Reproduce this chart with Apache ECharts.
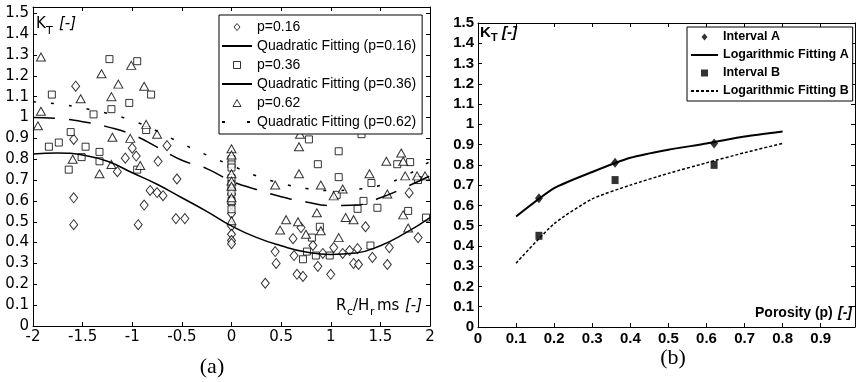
<!DOCTYPE html>
<html>
<head>
<meta charset="utf-8">
<script src="https://cdn.jsdelivr.net/npm/echarts@6/dist/echarts.min.js"></script>
<style>
  html, body { margin: 0; padding: 0; background: #fff; }
  #chart { width: 858px; height: 382px; }
</style>
</head>
<body>
<div id="chart"></div>
<script>
// ---- panel (a): K_T against Rc/Hrms ----
const p16Points = [
  [-1.57, 1.15], [-1.59, 0.895], [-1.0, 0.853], [-0.96, 0.815], [-1.07, 0.805], [-0.74, 0.79],
  [-0.65, 0.865], [-1.15, 0.74], [-0.55, 0.705], [-1.59, 0.615], [-1.59, 0.486], [-0.82, 0.65],
  [-0.75, 0.64], [-0.69, 0.625], [-0.88, 0.58], [-0.94, 0.486], [-0.56, 0.515], [-0.47, 0.515],
  [0, 0.633], [0, 0.66], [0, 0.585], [0, 0.54], [0, 0.48], [0, 0.44], [0, 0.41], [0, 0.395],
  [1.79, 0.638], [1.35, 0.476], [0.62, 0.419], [0.70, 0.472], [0.82, 0.386], [1.03, 0.376],
  [1.12, 0.348], [1.19, 0.362], [1.27, 0.371], [0.92, 0.348], [1.59, 0.376], [1.88, 0.424],
  [0.44, 0.357], [0.63, 0.338], [0.45, 0.30], [0.87, 0.286], [1.23, 0.30], [1.28, 0.295],
  [1.42, 0.329], [1.57, 0.295], [0.66, 0.248], [0.72, 0.238], [1.0, 0.248], [0.34, 0.205]
]
const p36Points = [
  [-1.23, 1.28], [-0.95, 1.27], [-1.81, 1.11], [-0.81, 1.11], [-1.03, 1.07], [-1.39, 1.015],
  [-1.21, 1.04], [-1.62, 0.93], [-1.74, 0.88], [-1.84, 0.86], [-1.47, 0.86], [-1.33, 0.835],
  [-1.33, 0.79], [-1.51, 0.81], [-1.64, 0.75], [-0.86, 0.94], [-0.95, 0.75],
  [0, 0.80], [0, 0.775], [0, 0.76], [0, 0.71], [0, 0.68], [0, 0.64], [0, 0.60], [0, 0.56],
  [0.78, 0.895], [1.08, 0.838], [0.87, 0.776], [1.08, 0.714], [1.41, 0.686], [1.67, 0.776],
  [1.80, 0.786], [1.88, 0.70], [1.06, 0.629], [1.33, 0.60], [1.27, 0.562], [1.47, 0.567],
  [1.78, 0.552], [1.96, 0.52], [0.89, 0.476], [0.81, 0.424], [1.40, 0.386], [0.76, 0.357],
  [0.72, 0.32], [0.85, 0.338], [0.99, 0.338], [1.31, 0.92]
]
const p62Points = [
  [-1.92, 1.29], [-1.92, 1.03], [-1.95, 0.96], [-1.31, 1.21], [-1.14, 1.16], [-1.52, 1.09],
  [-1.21, 1.10], [-1.01, 1.25], [-0.88, 1.15], [-1.20, 0.905], [-1.02, 0.90], [-0.86, 0.967],
  [-0.75, 0.92], [-1.60, 0.80], [-1.33, 0.73], [-1.21, 0.775], [-0.92, 0.77],
  [0, 0.85], [0, 0.82], [0, 0.73], [0, 0.695], [0, 0.67], [0, 0.615], [0, 0.505],
  [0.69, 0.92], [0.68, 0.86], [0.68, 0.73], [0.44, 0.676], [0.90, 0.676], [1.39, 0.73],
  [1.56, 0.79], [1.71, 0.83], [1.73, 0.79], [1.75, 0.72], [1.87, 0.72], [1.95, 0.72],
  [1.12, 0.657], [1.03, 0.624], [1.57, 0.633], [0.86, 0.543], [0.55, 0.51], [0.67, 0.50],
  [1.15, 0.52], [1.23, 0.51], [0.49, 0.46], [0.90, 0.457], [0.75, 0.44], [1.08, 0.424],
  [1.73, 0.533], [1.78, 0.47]
]
const fitX = [-2, -1.75, -1.5, -1.25, -1, -0.75, -0.5, -0.25, 0, 0.25, 0.5, 0.75, 1, 1.25, 1.5, 1.75, 2]
const fit16 = [0.825, 0.83, 0.82, 0.79, 0.735, 0.68, 0.615, 0.55, 0.48, 0.425, 0.385, 0.355, 0.343, 0.35, 0.385, 0.445, 0.52]
const fit36 = [1.0, 0.995, 0.98, 0.955, 0.918, 0.858, 0.795, 0.755, 0.695, 0.655, 0.62, 0.595, 0.578, 0.58, 0.615, 0.665, 0.72]
const fit62 = [1.075, 1.065, 1.045, 1.02, 0.985, 0.935, 0.875, 0.82, 0.77, 0.72, 0.685, 0.66, 0.65, 0.655, 0.675, 0.72, 0.79]

// ---- panel (b): K_T against porosity ----
const intervalA = [[0.16, 0.635], [0.36, 0.81], [0.62, 0.905]]
const intervalB = [[0.16, 0.45], [0.36, 0.725], [0.62, 0.80]]
const logX = [0.1, 0.2, 0.3, 0.4, 0.5, 0.6, 0.7, 0.8]
const logA = [0.545, 0.685, 0.765, 0.835, 0.875, 0.905, 0.94, 0.965]
const logB = [0.315, 0.51, 0.632, 0.7, 0.758, 0.81, 0.86, 0.906]

const zip = (xs, ys) => xs.map((x, i) => [x, ys[i]])
// only print labels that sit on a 0.1 step (hides the odd extent ticks)
const tenth = v => Math.abs(v * 10 - Math.round(v * 10)) < 1e-6 ? String(+v.toFixed(1)) : ''

const DIAMOND = 'path://M3,0L6,3.5L3,7L0,3.5Z'
const SQUARE = 'path://M0,0H6V6H0Z'
const TRIANGLE = 'path://M4,0L8,7L0,7Z'
const hollow = { color: '#fff', borderColor: '#000', borderWidth: 1 }
// line entries in the legend: no dot in the middle
const noDot = { color: 'rgba(0,0,0,0)', borderColor: 'rgba(0,0,0,0)', borderWidth: 0 }

const chart = echarts.init(document.getElementById('chart'))

function frameAxis(gridIndex, pos, min, max, interval, labels, font) {
  return {
    type: 'value', gridIndex, position: pos, min, max, interval,
    axisLine: { show: true, onZero: false, lineStyle: { color: '#000', width: 1 } },
    axisTick: { show: true, inside: true, length: 4, lineStyle: { color: '#000' } },
    splitLine: { show: false },
    axisLabel: labels ? Object.assign({ color: '#000', formatter: tenth }, font) : { show: false }
  }
}

const fontA = { fontFamily: 'DejaVu Sans', fontSize: 15, margin: 4 }
const fontB = { fontFamily: 'Liberation Sans', fontSize: 15, fontWeight: 'bold', margin: 4 }

function txt(text, x, y, font, align) {
  return { type: 'text', x, y, silent: true,
    style: { text, font, fill: '#000', align: align || 'left', verticalAlign: 'middle' } }
}

const option = {
  animation: false,
  textStyle: { fontFamily: 'Liberation Sans', color: '#000' },
  grid: [
    { left: 33, top: 7, width: 397, height: 319 },
    { left: 478, top: 23, width: 379, height: 304 }
  ],
  xAxis: [
    frameAxis(0, 'bottom', -2, 2, 0.5, true, fontA),
    frameAxis(0, 'top', -2, 2, 0.5, false),
    frameAxis(1, 'bottom', 0, 0.99, 0.1, true, fontB),
    frameAxis(1, 'top', 0, 0.99, 0.1, false)
  ],
  yAxis: [
    frameAxis(0, 'left', 0, 1.53, 0.1, true, fontA),
    frameAxis(0, 'right', 0, 1.53, 0.1, false),
    frameAxis(1, 'left', 0, 1.5, 0.1, true, fontB),
    frameAxis(1, 'right', 0, 1.5, 0.1, false)
  ],
  legend: [
    {
      orient: 'vertical', left: 219, top: 15,
      itemWidth: 30, itemHeight: 7, itemGap: 3,
      padding: [4, 6, 4, 2],
      borderColor: '#000', borderWidth: 1, borderRadius: 0, backgroundColor: '#fff',
      textStyle: { fontFamily: 'Liberation Sans', fontSize: 14, color: '#000', lineHeight: 16 },
      selectedMode: false,
      data: [
        { name: 'p=0.16', icon: DIAMOND, itemStyle: hollow },
        { name: 'Quadratic Fitting (p=0.16)', itemStyle: noDot },
        { name: 'p=0.36', icon: SQUARE, itemStyle: hollow },
        { name: 'Quadratic Fitting (p=0.36)', itemStyle: noDot, lineStyle: { type: 'solid' } },
        { name: 'p=0.62', icon: TRIANGLE, itemStyle: hollow },
        { name: 'Quadratic Fitting (p=0.62)', itemStyle: noDot, lineStyle: { type: [3, 22] } }
      ]
    },
    {
      orient: 'vertical', left: 687, top: 27,
      itemWidth: 27, itemHeight: 7, itemGap: 2,
      padding: [2, 4, 2, 3],
      borderColor: '#000', borderWidth: 1, borderRadius: 0, backgroundColor: '#fff',
      textStyle: { fontFamily: 'Liberation Sans', fontSize: 12.5, fontWeight: 'bold', color: '#000', lineHeight: 16 },
      selectedMode: false,
      data: [
        { name: 'Interval A', icon: DIAMOND, itemStyle: { color: '#000' } },
        { name: 'Logarithmic Fitting A', itemStyle: noDot },
        { name: 'Interval B', icon: SQUARE, itemStyle: { color: '#000' } },
        { name: 'Logarithmic Fitting B', itemStyle: noDot }
      ]
    }
  ],
  series: [
    {
      name: 'p=0.16', type: 'scatter', xAxisIndex: 0, yAxisIndex: 0,
      symbol: 'diamond', symbolSize: [8, 10], itemStyle: hollow, data: p16Points
    },
    {
      name: 'Quadratic Fitting (p=0.16)', type: 'line', xAxisIndex: 0, yAxisIndex: 0,
      smooth: true, symbol: 'none', itemStyle: { color: '#000' },
      lineStyle: { color: '#000', width: 1.5 }, data: zip(fitX, fit16)
    },
    {
      name: 'p=0.36', type: 'scatter', xAxisIndex: 0, yAxisIndex: 0,
      symbol: 'rect', symbolSize: [7, 7], itemStyle: hollow, data: p36Points
    },
    {
      name: 'Quadratic Fitting (p=0.36)', type: 'line', xAxisIndex: 0, yAxisIndex: 0,
      smooth: true, symbol: 'none', itemStyle: { color: '#000' },
      lineStyle: { color: '#000', width: 1.5, type: [22, 14] }, data: zip(fitX, fit36)
    },
    {
      name: 'p=0.62', type: 'scatter', xAxisIndex: 0, yAxisIndex: 0,
      symbol: 'triangle', symbolSize: [9, 8], itemStyle: hollow, data: p62Points
    },
    {
      name: 'Quadratic Fitting (p=0.62)', type: 'line', xAxisIndex: 0, yAxisIndex: 0,
      smooth: true, symbol: 'none', itemStyle: { color: '#000' },
      lineStyle: { color: '#000', width: 1.5, type: [3, 15] }, data: zip(fitX, fit62)
    },
    {
      name: 'Interval A', type: 'scatter', xAxisIndex: 2, yAxisIndex: 2,
      symbol: 'diamond', symbolSize: [8, 10], itemStyle: { color: '#000' }, data: intervalA, z: 3
    },
    {
      name: 'Logarithmic Fitting A', type: 'line', xAxisIndex: 2, yAxisIndex: 2,
      smooth: 0.2, symbol: 'none', itemStyle: { color: '#000' },
      lineStyle: { color: '#000', width: 2 }, data: zip(logX, logA)
    },
    {
      name: 'Interval B', type: 'scatter', xAxisIndex: 2, yAxisIndex: 2,
      symbol: 'rect', symbolSize: [7, 8], itemStyle: { color: '#000' }, data: intervalB, z: 3
    },
    {
      name: 'Logarithmic Fitting B', type: 'line', xAxisIndex: 2, yAxisIndex: 2,
      smooth: 0.2, symbol: 'none', itemStyle: { color: '#000' },
      lineStyle: { color: '#000', width: 1.5, type: [3, 2] }, data: zip(logX, logB)
    }
  ],
  graphic: [
    // panel (a) axis names
    txt('K', 36, 24, '15px "DejaVu Sans"'),
    txt('T', 46, 31, '11px "DejaVu Sans"'),
    txt('[-]', 59, 24, 'italic 15px "DejaVu Sans"'),
    txt('R', 336, 306, '15px "DejaVu Sans"'),
    txt('c', 347, 312, '11px "DejaVu Sans"'),
    txt('/H', 353, 306, '15px "DejaVu Sans"'),
    txt('r', 370, 312, '11px "DejaVu Sans"'),
    txt('ms', 377, 306, '15px "DejaVu Sans"'),
    txt('[-]', 405, 306, 'italic 15px "DejaVu Sans"'),
    txt('(a)', 212, 367, '22px "Liberation Serif"', 'center'),
    // panel (b) axis names
    txt('K', 480, 33, 'bold 15px "Liberation Sans"'),
    txt('T', 491, 38, 'bold 11px "Liberation Sans"'),
    txt('[-]', 502, 33, 'italic bold 15px "Liberation Sans"'),
    txt('Porosity (p) ', 755, 313, 'bold 14px "Liberation Sans"'),
    txt('[-]', 838, 313, 'italic bold 14px "Liberation Sans"'),
    txt('(b)', 673, 358, '22px "Liberation Serif"', 'center')
  ]
}

chart.setOption(option)
</script>
</body>
</html>
